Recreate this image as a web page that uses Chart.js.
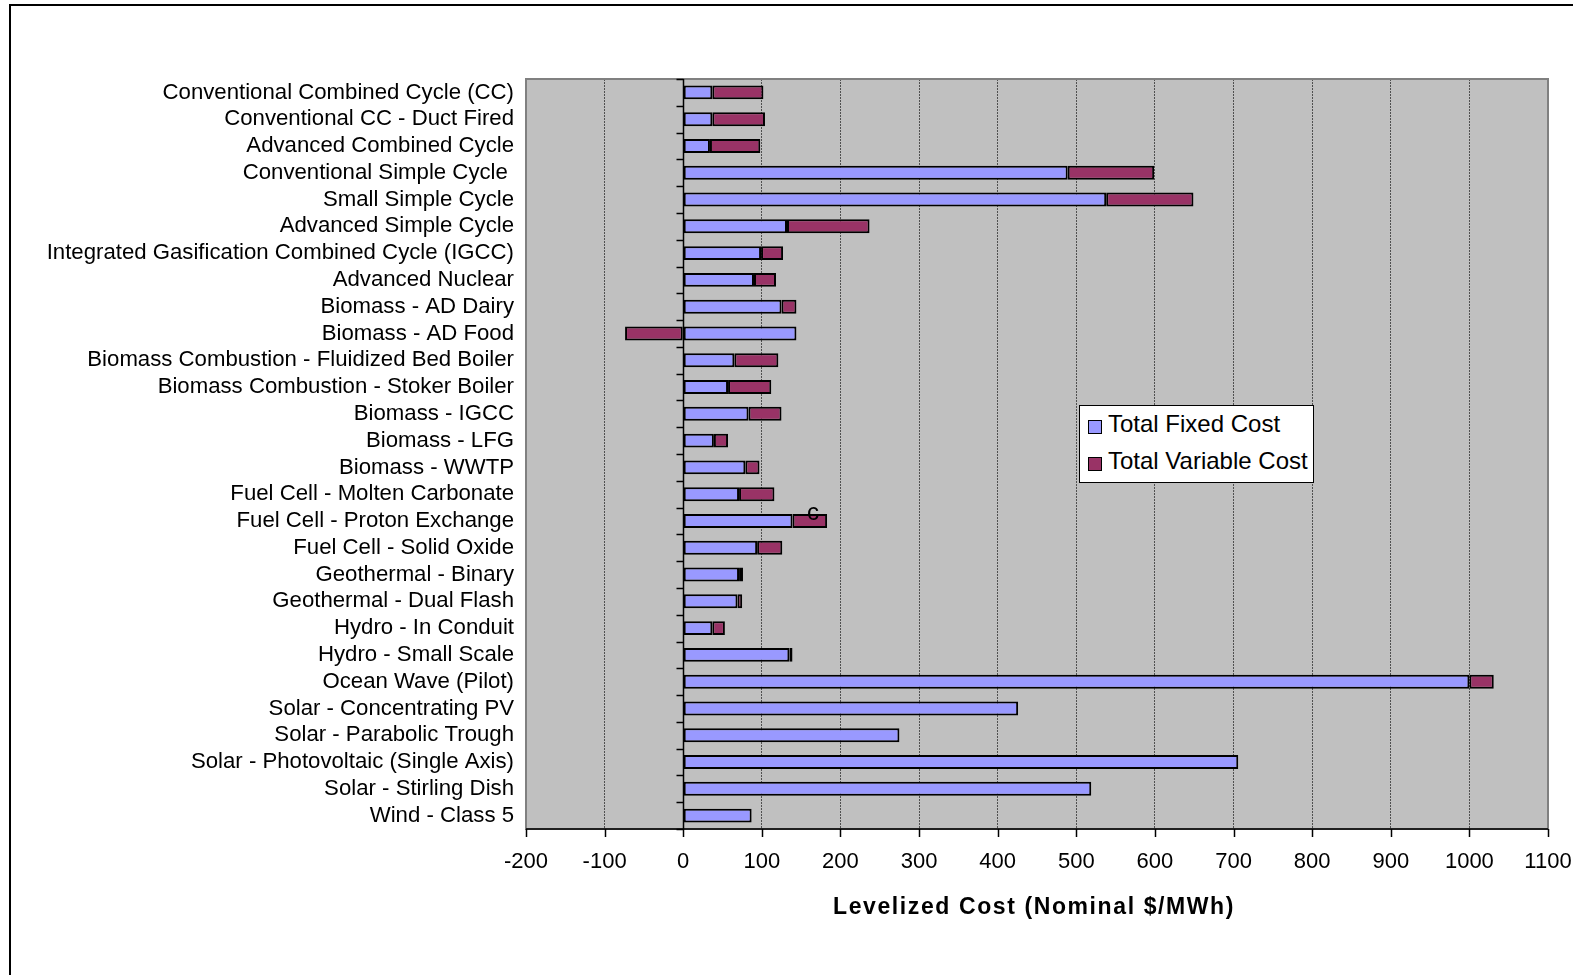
<!DOCTYPE html>
<html>
<head>
<meta charset="utf-8">
<script src="https://cdn.jsdelivr.net/npm/chart.js@4"></script>
<style>
  html, body { margin: 0; padding: 0; background: #fff; }
  #wrap { position: relative; width: 1573px; height: 975px; overflow: hidden; }
  #frame { position: absolute; left: 9px; top: 4px; width: 1700px; height: 1100px;
           border-left: 2px solid #000; border-top: 2px solid #000; pointer-events: none; }
  #legend { position: absolute; left: 1079px; top: 405px; width: 235px; height: 78px;
            background: #fff; border: 1px solid #000; box-sizing: border-box;
            font-family: "Liberation Sans", Arial, sans-serif; font-size: 24px; line-height: 28px; color: #000; }
  .item { position: absolute; left: 8px; display: flex; align-items: center; white-space: nowrap; }
  .sw { width: 12px; height: 12px; border: 1.5px solid #000; margin-right: 6px; margin-top: 6px; }
</style>
</head>
<body>
<div id="wrap">
  <canvas id="c" width="1573" height="975"></canvas>
  <div id="frame"></div>
  <div id="legend">
    <div class="item" style="top:4px"><span class="sw" style="background:#9999FF"></span><span id="lg0"></span></div>
    <div class="item" style="top:41px"><span class="sw" style="background:#993366"></span><span id="lg1"></span></div>
  </div>
</div>
<script>
const categories = [
  "Conventional Combined Cycle (CC)",
  "Conventional CC - Duct Fired",
  "Advanced Combined Cycle",
  "Conventional Simple Cycle ",
  "Small Simple Cycle",
  "Advanced Simple Cycle",
  "Integrated Gasification Combined Cycle (IGCC)",
  "Advanced Nuclear",
  "Biomass - AD Dairy",
  "Biomass - AD Food",
  "Biomass Combustion - Fluidized Bed Boiler",
  "Biomass Combustion - Stoker Boiler",
  "Biomass - IGCC",
  "Biomass - LFG",
  "Biomass - WWTP",
  "Fuel Cell - Molten Carbonate",
  "Fuel Cell - Proton Exchange",
  "Fuel Cell - Solid Oxide",
  "Geothermal - Binary",
  "Geothermal - Dual Flash",
  "Hydro - In Conduit",
  "Hydro - Small Scale",
  "Ocean Wave (Pilot)",
  "Solar - Concentrating PV",
  "Solar - Parabolic Trough",
  "Solar - Photovoltaic (Single Axis)",
  "Solar - Stirling Dish",
  "Wind - Class 5"
];
const seriesNames = ["Total Fixed Cost", "Total Variable Cost"];
const fixedCost = [37, 37, 34, 489, 538, 132, 99, 90, 125, 144, 65, 57, 83, 39, 79, 71, 139, 94, 71, 69, 37, 135, 1000, 426, 275, 706, 519, 87];
const variableCost = [65, 67, 64, 110, 111, 105, 28, 28, 19, -74, 56, 55, 42, 18, 18, 45, 44, 32, 5, 6, 16, 4, 31, 0, 0, 0, 0, 0];
const xTicks = [-200, -100, 0, 100, 200, 300, 400, 500, 600, 700, 800, 900, 1000, 1100];
const axisTitle = "Levelized Cost (Nominal $/MWh)";
const annotationText = "c";
const annotationCategory = "Fuel Cell - Proton Exchange";
const annotationValue = 165;

document.getElementById('lg0').textContent = seriesNames[0];
document.getElementById('lg1').textContent = seriesNames[1];

const FONT = '"Liberation Sans", Arial, sans-serif';

const plotBg = {
  id: 'plotBg',
  beforeDraw(chart) {
    const {ctx, chartArea: a} = chart;
    ctx.save();
    ctx.fillStyle = '#C0C0C0';
    ctx.fillRect(a.left, a.top, a.right - a.left, a.bottom - a.top);
    ctx.restore();
  },
  beforeDatasetsDraw(chart) {
    const {ctx, chartArea: a} = chart;
    ctx.save();
    ctx.strokeStyle = '#808080';
    ctx.lineWidth = 2;
    ctx.strokeRect(a.left, a.top, a.right - a.left, a.bottom - a.top);
    ctx.strokeStyle = '#000';
    ctx.lineWidth = 1.5;
    ctx.beginPath();
    ctx.moveTo(a.left, a.bottom); ctx.lineTo(a.right, a.bottom);
    ctx.stroke();
    const xs = chart.scales.x;
    xTicks.forEach(v => {
      const px = Math.round(xs.getPixelForValue(v)) + 0.5;
      ctx.beginPath(); ctx.moveTo(px, a.bottom); ctx.lineTo(px, a.bottom + 8); ctx.stroke();
    });
    const x0 = Math.round(xs.getPixelForValue(0)) + 0.5;
    ctx.beginPath(); ctx.moveTo(x0, a.top); ctx.lineTo(x0, a.bottom); ctx.stroke();
    const n = categories.length;
    const step = (a.bottom - a.top) / n;
    for (let i = 0; i <= n; i++) {
      const py = Math.round(a.top + i * step) + 0.5;
      ctx.beginPath(); ctx.moveTo(x0 - 7, py); ctx.lineTo(x0, py); ctx.stroke();
    }
    ctx.restore();
  },
  afterDatasetsDraw(chart) {
    const {ctx, chartArea: a} = chart;
    const xs = chart.scales.x, ys = chart.scales.y;
    const idx = categories.indexOf(annotationCategory);
    ctx.save();
    ctx.font = '24px ' + FONT;
    ctx.fillStyle = '#000';
    ctx.textAlign = 'center';
    ctx.textBaseline = 'middle';
    ctx.fillText(annotationText, xs.getPixelForValue(annotationValue), ys.getPixelForValue(idx) - 8);
    ctx.font = 'bold 23px ' + FONT;
    try { ctx.letterSpacing = '1.6px'; } catch (e) {}
    ctx.fillText(axisTitle, (a.left + a.right) / 2 - 3, 908);
    ctx.restore();
  }
};

new Chart(document.getElementById('c'), {
  type: 'bar',
  data: {
    labels: categories,
    datasets: [
      { label: seriesNames[0], data: fixedCost, backgroundColor: '#9999FF', borderColor: '#000', borderWidth: 2, borderSkipped: false, barPercentage: 0.52, categoryPercentage: 1 },
      { label: seriesNames[1], data: variableCost, backgroundColor: '#993366', borderColor: '#000', borderWidth: 2, borderSkipped: false, barPercentage: 0.52, categoryPercentage: 1 }
    ]
  },
  options: {
    indexAxis: 'y',
    responsive: false,
    animation: false,
    devicePixelRatio: 1,
    layout: { padding: { top: 79, right: 25, left: 0, bottom: 0 } },
    plugins: { legend: { display: false }, tooltip: { enabled: false } },
    scales: {
      x: {
        type: 'linear',
        stacked: true,
        min: -200, max: 1100,
        afterBuildTicks(scale) { scale.ticks = xTicks.map(v => ({ value: v })); },
        afterFit(scale) { scale.height = 146; scale.paddingRight = 0; scale.paddingLeft = 0; },
        grid: { color: '#505050', lineWidth: 1, drawTicks: false, drawOnChartArea: true },
        border: { display: false, dash: [2, 1] },
        ticks: { color: '#000', font: { family: FONT, size: 22 }, padding: 20, maxRotation: 0, callback: v => String(v) },
        title: { display: false }
      },
      y: {
        type: 'category',
        stacked: true,
        afterFit(scale) { scale.width = 526; },
        grid: { display: false, drawTicks: false },
        border: { display: false },
        ticks: { color: '#000', font: { family: FONT, size: 22.2 }, padding: 12, autoSkip: false }
      }
    }
  },
  plugins: [plotBg]
});
</script>
</body>
</html>
